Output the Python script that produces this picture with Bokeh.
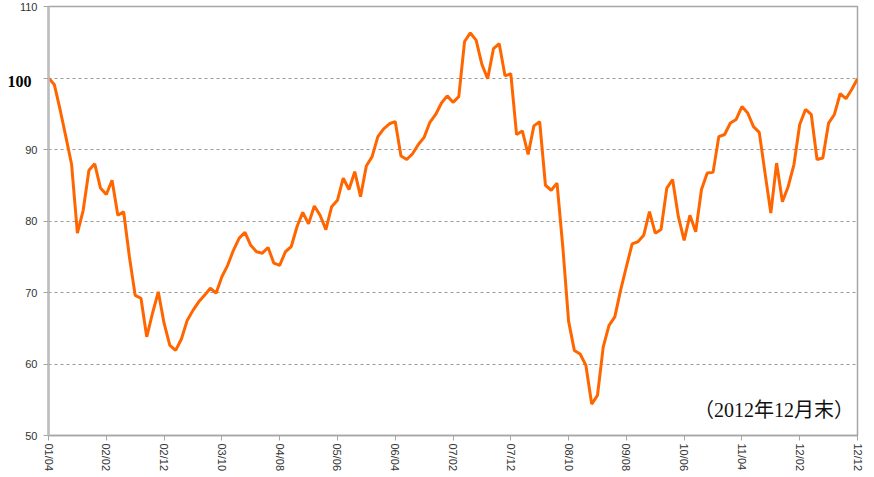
from bokeh.plotting import figure
from bokeh.models import FixedTicker, Range1d, Label, LinearAxis
from bokeh.embed import file_html
from bokeh.resources import INLINE

values = [
    100.0, 99.1, 95.6, 91.8, 87.9, 78.3, 81.5, 87.1, 88.0, 84.6,
    83.7, 85.7, 80.8, 81.3, 75.0, 69.6, 69.2, 63.8, 67.1, 70.1,
    65.7, 62.6, 61.9, 63.5, 66.1, 67.5, 68.7, 69.6, 70.6, 69.9,
    72.2, 73.8, 75.9, 77.6, 78.4, 76.6, 75.7, 75.5, 76.3, 74.1,
    73.8, 75.7, 76.4, 79.2, 81.2, 79.6, 82.1, 80.8, 78.8, 82.0,
    82.9, 86.0, 84.4, 86.9, 83.4, 87.7, 89.0, 91.8, 92.9, 93.6,
    93.9, 89.1, 88.6, 89.4, 90.7, 91.7, 93.8, 94.9, 96.5, 97.5,
    96.6, 97.4, 105.1, 106.3, 105.3, 101.9, 99.9, 104.1, 104.8, 100.3,
    100.6, 92.1, 92.6, 89.3, 93.3, 93.9, 85.0, 84.3, 85.3, 76.4,
    66.0, 61.9, 61.4, 59.8, 54.4, 55.6, 62.4, 65.4, 66.6, 70.3,
    73.6, 76.8, 77.1, 78.0, 81.3, 78.3, 78.8, 84.6, 85.8, 80.6,
    77.3, 80.8, 78.5, 84.4, 86.7, 86.8, 91.8, 92.1, 93.7, 94.2,
    96.0, 95.1, 93.2, 92.4, 86.7, 81.1, 88.1, 82.7, 84.8, 87.9,
    93.5, 95.6, 94.9, 88.6, 88.8, 93.7, 94.9, 97.8, 97.1, 98.4,
    99.9,
]
tick_labels = ["01/04", "02/02", "02/12", "03/10", "04/08", "05/06", "06/04",
               "07/02", "07/12", "08/10", "09/08", "10/06", "11/04", "12/02", "12/12"]
tick_step = 10
y_ticks = [50, 60, 70, 80, 90, 100, 110]
base_value = 100
note = "（2012年12月末）"

months = list(range(len(values)))
tick_pos = [i * tick_step for i in range(len(tick_labels))]

p = figure(width=874, height=477, output_backend="svg", toolbar_location=None,
           x_range=Range1d(0, len(values) - 1), y_range=Range1d(50, 110),
           min_border_left=48, min_border_right=17, min_border_top=6, min_border_bottom=42)

p.line(months, values, line_color="#FF6600", line_width=3)

p.outline_line_color = "#a6a6a6"
p.outline_line_width = 1.5

p.xgrid.visible = False
p.ygrid.grid_line_color = "#9a9a9a"
p.ygrid.grid_line_dash = "3 3"
p.ygrid.grid_line_width = 1
p.ygrid.ticker = FixedTicker(ticks=[60, 70, 80, 90, 100])

xa = p.xaxis[0]
xa.ticker = FixedTicker(ticks=tick_pos)
xa.major_label_overrides = {t: l for t, l in zip(tick_pos, tick_labels)}
xa.major_label_orientation = "vertical"
xa.axis_line_color = "#a6a6a6"
xa.axis_line_width = 1.5
xa.major_tick_line_color = "#a6a6a6"
xa.major_tick_in = 0
xa.major_tick_out = 5
xa.minor_tick_line_color = None
xa.major_label_text_font = "Liberation Sans"
xa.major_label_text_font_size = "11px"
xa.major_label_text_color = "#333333"
xa.major_label_standoff = 3

ya = p.yaxis[0]
ya.ticker = FixedTicker(ticks=y_ticks)
ya.major_label_overrides = {base_value: " "}
ya.axis_line_color = "#bdbdbd"
ya.axis_line_width = 2.5
ya.major_tick_line_color = "#a6a6a6"
ya.major_tick_in = 0
ya.major_tick_out = 5
ya.minor_tick_line_color = None
ya.major_label_text_font = "Liberation Sans"
ya.major_label_text_font_size = "11px"
ya.major_label_text_color = "#333333"
ya.major_label_standoff = 6

# bold serif label for the base value 100 (drawn slightly below its grid line)
base_tick = base_value - 0.55
ya2 = LinearAxis(ticker=FixedTicker(ticks=[base_tick]),
                 major_label_overrides={base_tick: str(base_value)})
ya2.axis_line_color = None
ya2.major_tick_line_color = None
ya2.minor_tick_line_color = None
ya2.major_tick_in = 0
ya2.major_tick_out = 0
ya2.major_label_standoff = -15
ya2.major_label_text_font = "Liberation Serif"
ya2.major_label_text_font_style = "bold"
ya2.major_label_text_font_size = "16px"
ya2.major_label_text_color = "#000000"
p.add_layout(ya2, "left")

p.add_layout(Label(x=139.4, y=53.6, text=note,
                   text_font="'Liberation Serif', 'Noto Sans CJK JP'",
                   text_font_size="20px", text_color="#111111",
                   text_align="right", text_baseline="middle"))

open("out.html", "w").write(file_html(p, INLINE))
